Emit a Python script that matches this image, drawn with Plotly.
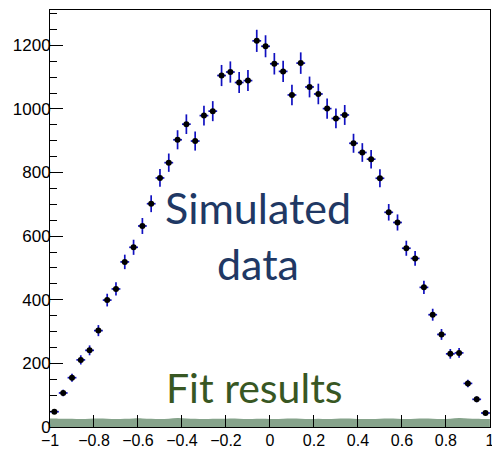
import numpy as np
import plotly.graph_objects as go

# 50 bins from -1 to 1
bin_centers = [round(-0.98 + 0.04 * i, 2) for i in range(50)]
counts = [48, 107, 155, 211, 241, 303, 399, 434, 519, 565,
          632, 702, 783, 831, 903, 952, 899, 979, 993, 1105,
          1116, 1083, 1089, 1214, 1197, 1142, 1118, 1044, 1144, 1069,
          1047, 1001, 970, 981, 892, 863, 842, 782, 675, 643,
          562, 530, 439, 353, 291, 230, 233, 137, 87, 44]
fit_band = [27, 26, 26, 25, 26, 27, 26, 25, 26, 27,
            27, 26, 25, 26, 28, 27, 26, 25, 26, 26,
            27, 26, 25, 26, 26, 25, 26, 27, 26, 25,
            26, 25, 26, 27, 26, 25, 25, 26, 27, 26,
            25, 26, 27, 26, 25, 26, 28, 27, 26, 25]
errors = [float(np.sqrt(c)) for c in counts]

fig = go.Figure()

fig.add_trace(go.Scatter(
    x=[-1.0] + bin_centers + [1.0], y=[fit_band[0]] + fit_band + [fit_band[-1]],
    mode="lines", line=dict(width=0, shape="spline", color="#86a38b"),
    fill="tozeroy", fillcolor="#86a38b", hoverinfo="skip", showlegend=False))

fig.add_trace(go.Scatter(
    x=bin_centers, y=counts, mode="markers",
    marker=dict(color="black", size=6, symbol="circle"),
    error_y=dict(type="data", array=errors, color="#1010c0", thickness=1.7, width=0),
    error_x=dict(type="constant", value=0.02, color="#1010c0", thickness=1.7, width=0),
    showlegend=False))

txt_font = "Lato, Open Sans, sans-serif"
fig.add_annotation(x=-0.056, y=690, xref="x", yref="y", text="Simulated", showarrow=False,
                   font=dict(family=txt_font, size=43, color="#203864"), xanchor="center", yanchor="middle")
fig.add_annotation(x=-0.056, y=515, xref="x", yref="y", text="data", showarrow=False,
                   font=dict(family=txt_font, size=43, color="#203864"), xanchor="center", yanchor="middle")
fig.add_annotation(x=-0.07, y=125, xref="x", yref="y", text="Fit results", showarrow=False,
                   font=dict(family=txt_font, size=41, color="#385723"), xanchor="center", yanchor="middle")

x_font = dict(family="Liberation Sans", size=16, color="black")
y_font = dict(family="Liberation Sans", size=17, color="black")
fig.update_xaxes(range=[-1, 1.0005], tickmode="array",
                 tickvals=[-1, -0.8, -0.6, -0.4, -0.2, 0, 0.2, 0.4, 0.6, 0.8, 1],
                 ticktext=["\u22121", "\u22120.8", "\u22120.6", "\u22120.4", "\u22120.2", "0", "0.2", "0.4", "0.6", "0.8", "1"],
                 ticks="inside", ticklen=12, tickcolor="black", tickwidth=1,
                 showline=True, linecolor="black", linewidth=1, mirror=True,
                 showgrid=False, zeroline=False, tickfont=x_font, automargin=False,
                 ticklabeloverflow="allow", ticklabelstandoff=-1)
fig.update_yaxes(range=[0, 1311], tickmode="array",
                 tickvals=[0, 200, 400, 600, 800, 1000, 1200],
                 ticks="inside", ticklen=13, tickcolor="black", tickwidth=1,
                 minor=dict(tickvals=[50 * k for k in range(27) if k % 4 != 0], ticks="inside", ticklen=7, tickcolor="black"),
                 showline=True, linecolor="black", linewidth=1, mirror=True,
                 showgrid=False, zeroline=False, tickfont=y_font, automargin=False,
                 ticklabelstandoff=-5)

fig.update_layout(width=492, height=449, margin=dict(l=50, r=2, t=10, b=22),
                  plot_bgcolor="white", paper_bgcolor="white")

fig.write_html("out.html")
